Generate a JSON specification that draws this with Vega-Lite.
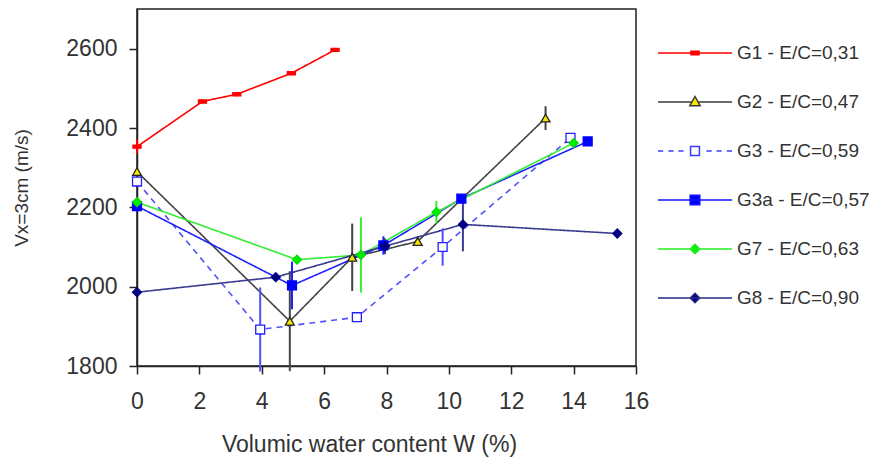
{
  "$schema": "https://vega.github.io/schema/vega-lite/v6.json",
  "width": 499,
  "height": 357,
  "autosize": {"type": "none"},
  "padding": {"left": 137, "top": 9, "right": 234, "bottom": 91},
  "background": "white",
  "config": {
    "view": {"stroke": "#222222", "strokeWidth": 1.5},
    "font": "Liberation Sans",
    "axis": {
      "grid": false,
      "domainColor": "#222222",
      "tickColor": "#222222",
      "labelColor": "#333333",
      "titleColor": "#333333",
      "labelFont": "Liberation Sans",
      "titleFont": "Liberation Sans",
      "titleFontWeight": "normal",
      "labelFontSize": 23,
      "titleFontSize": 23,
      "labelFlush": false,
      "domainWidth": 1.5,
      "tickWidth": 1.5,
      "tickSize": 8
    },
    "legend": {"labelFont": "Liberation Sans", "labelColor": "#333333"}
  },
  "data": {
    "values": [
      {"series": "G1 - E/C=0,31", "w": 0, "v": 2353, "err": 18},
      {"series": "G1 - E/C=0,31", "w": 2.1, "v": 2467, "err": 5},
      {"series": "G1 - E/C=0,31", "w": 3.2, "v": 2485, "err": 5},
      {"series": "G1 - E/C=0,31", "w": 4.95, "v": 2538, "err": 5},
      {"series": "G1 - E/C=0,31", "w": 6.35, "v": 2597, "err": 5},
      {"series": "G2 - E/C=0,47", "w": 0, "v": 2290, "err": 15},
      {"series": "G2 - E/C=0,47", "w": 4.9, "v": 1913, "err": 126},
      {"series": "G2 - E/C=0,47", "w": 6.9, "v": 2074, "err": 85},
      {"series": "G2 - E/C=0,47", "w": 9.0, "v": 2114, "err": 10},
      {"series": "G2 - E/C=0,47", "w": 13.1, "v": 2425, "err": 30},
      {"series": "G3 - E/C=0,59", "w": 0, "v": 2265, "err": 10},
      {"series": "G3 - E/C=0,59", "w": 3.95, "v": 1892, "err": 106},
      {"series": "G3 - E/C=0,59", "w": 7.05, "v": 1923, "err": 12},
      {"series": "G3 - E/C=0,59", "w": 9.8, "v": 2100, "err": 47},
      {"series": "G3 - E/C=0,59", "w": 13.9, "v": 2375, "err": 10},
      {"series": "G3a - E/C=0,57", "w": 0, "v": 2203, "err": 8},
      {"series": "G3a - E/C=0,57", "w": 4.97, "v": 2003, "err": 60},
      {"series": "G3a - E/C=0,57", "w": 7.9, "v": 2104, "err": 23},
      {"series": "G3a - E/C=0,57", "w": 10.4, "v": 2222, "err": 8},
      {"series": "G3a - E/C=0,57", "w": 14.45, "v": 2366, "err": 8},
      {"series": "G7 - E/C=0,63", "w": 0, "v": 2213, "err": 8},
      {"series": "G7 - E/C=0,63", "w": 5.13, "v": 2068, "err": 8},
      {"series": "G7 - E/C=0,63", "w": 7.18, "v": 2080, "err": 95},
      {"series": "G7 - E/C=0,63", "w": 9.6, "v": 2188, "err": 28},
      {"series": "G7 - E/C=0,63", "w": 14.0, "v": 2362, "err": 8},
      {"series": "G8 - E/C=0,90", "w": 0, "v": 1986, "err": 8},
      {"series": "G8 - E/C=0,90", "w": 4.45, "v": 2024, "err": 8},
      {"series": "G8 - E/C=0,90", "w": 7.95, "v": 2102, "err": 20},
      {"series": "G8 - E/C=0,90", "w": 10.45, "v": 2157, "err": 68},
      {"series": "G8 - E/C=0,90", "w": 15.4, "v": 2134, "err": 8}
    ]
  },
  "transform": [
    {"calculate": "datum.series + ' m'", "as": "mk"},
    {"calculate": "datum.v - datum.err", "as": "lo"},
    {"calculate": "datum.v + datum.err", "as": "hi"}
  ],
  "encoding": {
    "x": {
      "field": "w",
      "type": "quantitative",
      "scale": {"domain": [0, 16], "nice": false},
      "axis": {
        "values": [0, 2, 4, 6, 8, 10, 12, 14, 16],
        "format": "d",
        "title": "Volumic water content W (%)",
        "labelPadding": 16,
        "titlePadding": 20,
        "titleX": 232
      }
    },
    "y": {
      "field": "v",
      "type": "quantitative",
      "scale": {"domain": [1800, 2700], "nice": false, "zero": false},
      "axis": {
        "values": [1800, 2000, 2200, 2400, 2600],
        "format": "d",
        "title": "Vx=3cm (m/s)",
        "titleFontSize": 19,
        "labelPadding": 12,
        "titlePadding": 34
      }
    }
  },
  "layer": [
    {
      "mark": {"type": "line", "strokeWidth": 1.6},
      "encoding": {
        "color": {
          "field": "series",
          "type": "nominal",
          "scale": {
            "domain": ["G1 - E/C=0,31", "G2 - E/C=0,47", "G3 - E/C=0,59", "G3a - E/C=0,57", "G7 - E/C=0,63", "G8 - E/C=0,90"],
            "range": ["#ff0000", "#444444", "#5050ff", "#2020ff", "#33ee33", "#3a3a90"]
          },
          "legend": null
        },
        "strokeDash": {
          "field": "series",
          "type": "nominal",
          "scale": {
            "domain": ["G1 - E/C=0,31", "G2 - E/C=0,47", "G3 - E/C=0,59", "G3a - E/C=0,57", "G7 - E/C=0,63", "G8 - E/C=0,90"],
            "range": [[1, 0], [1, 0], [6, 5], [1, 0], [1, 0], [1, 0]]
          },
          "legend": null
        }
      }
    },
    {
      "mark": {"type": "rule", "strokeWidth": 2},
      "encoding": {
        "y": {"field": "lo", "type": "quantitative"},
        "y2": {"field": "hi"},
        "color": {"field": "series", "type": "nominal", "legend": null}
      }
    },
    {
      "mark": {"type": "point", "size": 80, "strokeWidth": 1.3, "opacity": 1},
      "encoding": {
        "stroke": {
          "field": "mk",
          "type": "nominal",
          "scale": {
            "domain": ["G1 - E/C=0,31", "G2 - E/C=0,47", "G3 - E/C=0,59", "G3a - E/C=0,57", "G7 - E/C=0,63", "G8 - E/C=0,90",
                       "G1 - E/C=0,31 m", "G2 - E/C=0,47 m", "G3 - E/C=0,59 m", "G3a - E/C=0,57 m", "G7 - E/C=0,63 m", "G8 - E/C=0,90 m"],
            "range": ["#ff0000", "#3a3a3a", "#3a3aff", "#1010ff", "#22ee22", "#2a2a8a",
                      "#ff0000", "#222222", "#2020ff", "#0000ff", "#00dd00", "#000080"]
          },
          "legend": {
            "values": ["G1 - E/C=0,31", "G2 - E/C=0,47", "G3 - E/C=0,59", "G3a - E/C=0,57", "G7 - E/C=0,63", "G8 - E/C=0,90"],
            "title": null, "orient": "none", "legendX": 520, "legendY": 34, "padding": 0,
            "symbolSize": 5476, "symbolStrokeWidth": 1.5, "clipHeight": 20, "rowPadding": 29,
            "labelFontSize": 19, "labelOffset": 4
          }
        },
        "fill": {
          "field": "mk",
          "type": "nominal",
          "scale": {
            "domain": ["G1 - E/C=0,31", "G2 - E/C=0,47", "G3 - E/C=0,59", "G3a - E/C=0,57", "G7 - E/C=0,63", "G8 - E/C=0,90",
                       "G1 - E/C=0,31 m", "G2 - E/C=0,47 m", "G3 - E/C=0,59 m", "G3a - E/C=0,57 m", "G7 - E/C=0,63 m", "G8 - E/C=0,90 m"],
            "range": ["#ff0000", "#f5e600", "#ffffff", "#0000ff", "#00ee00", "#000080",
                      "#ff0000", "#f5e600", "#ffffff", "#0000ff", "#00ee00", "#000080"]
          },
          "legend": {
            "values": ["G1 - E/C=0,31", "G2 - E/C=0,47", "G3 - E/C=0,59", "G3a - E/C=0,57", "G7 - E/C=0,63", "G8 - E/C=0,90"],
            "title": null, "orient": "none", "legendX": 520, "legendY": 34, "padding": 0,
            "symbolSize": 5476, "symbolStrokeWidth": 1.5, "clipHeight": 20, "rowPadding": 29,
            "labelFontSize": 19, "labelOffset": 4
          }
        },
        "shape": {
          "field": "mk",
          "type": "nominal",
          "scale": {
            "domain": ["G1 - E/C=0,31", "G2 - E/C=0,47", "G3 - E/C=0,59", "G3a - E/C=0,57", "G7 - E/C=0,63", "G8 - E/C=0,90",
                       "G1 - E/C=0,31 m", "G2 - E/C=0,47 m", "G3 - E/C=0,59 m", "G3a - E/C=0,57 m", "G7 - E/C=0,63 m", "G8 - E/C=0,90 m"],
            "range": [
              "M-1,0H1M-0.11,-0.05H0.11V0.05H-0.11Z",
              "M-1,0H-0.08M0.08,0H1M-0.14,0.1L0,-0.15L0.14,0.1Z",
              "M-1,0H-0.86M-0.72,0H-0.58M-0.45,0H-0.31M0.31,0H0.45M0.58,0H0.72M0.86,0H1M-0.12,-0.12H0.12V0.12H-0.12Z",
              "M-1,0H1M-0.13,-0.13H0.13V0.13H-0.13Z",
              "M-1,0H1M0,-0.13L0.13,0L0,0.13L-0.13,0Z",
              "M-1,0H1M0,-0.13L0.13,0L0,0.13L-0.13,0Z",
              "M-0.9,-0.35H0.9V0.35H-0.9Z",
              "triangle-up",
              "square",
              "square",
              "diamond",
              "diamond"
            ]
          },
          "legend": {
            "values": ["G1 - E/C=0,31", "G2 - E/C=0,47", "G3 - E/C=0,59", "G3a - E/C=0,57", "G7 - E/C=0,63", "G8 - E/C=0,90"],
            "title": null, "orient": "none", "legendX": 520, "legendY": 34, "padding": 0,
            "symbolSize": 5476, "symbolStrokeWidth": 1.5, "clipHeight": 20, "rowPadding": 29,
            "labelFontSize": 19, "labelOffset": 4
          }
        }
      }
    }
  ]
}
